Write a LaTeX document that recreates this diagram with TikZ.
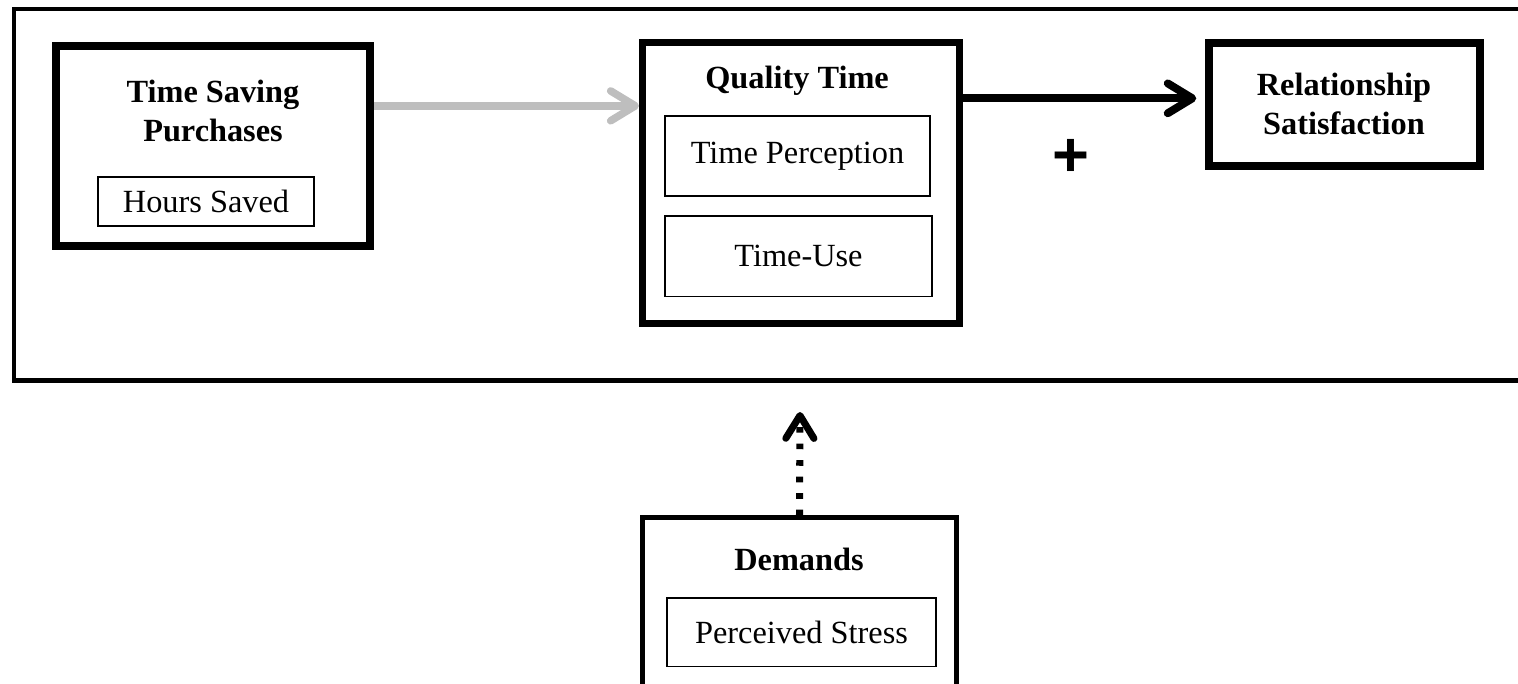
\documentclass[tikz,border=0pt]{standalone}
\usepackage{fontspec}
\setmainfont{Liberation Serif}
\setsansfont{Liberation Sans}
\usepackage{tikz}
\usetikzlibrary{
    positioning,
    arrows.meta
}
\definecolor{arrowgray}{RGB}{190,190,190}
\tikzset{
    >=Stealth,
    every node/.style={
        font=\fontsize{18.4}{22}\selectfont
    },
    outerframe/.style={draw, line width=2.3pt},
    thickbox/.style={draw, line width=4.5pt, inner sep=0pt},
    qualbox/.style={draw, line width=4pt, inner sep=0pt},
    demandbox/.style={draw, line width=2.55pt, inner sep=0pt},
    subbox/.style={draw, line width=0.85pt, inner sep=0pt},
    boxtitle/.style={
        font=\bfseries\fontsize{18.4}{22}\selectfont,
        align=center,
        inner sep=0pt
    },
    grayarrow/.style={
        draw=arrowgray,
        line width=4.3pt,
        -{Straight Barb[length=14pt, width=17pt, round]}
    },
    blackarrow/.style={
        draw,
        line width=4.5pt,
        -{Straight Barb[length=14pt, width=17pt, round]}
    },
    dotarrow/.style={
        draw,
        line width=4pt,
        dash pattern=on 3.2pt off 6.2pt,
        -{Straight Barb[length=13pt, width=16pt, round]}
    }
}

\begin{document}
\begin{tikzpicture}[
    x=0.02cm,
    y=-0.02cm
]

    \useasboundingbox (0,0) rectangle (1518,683);
    \clip (0,0) rectangle (1518,683);

    % Marco
    \draw[outerframe] (14,9) rectangle (1545,380.5);

    % Cajas
    \node[thickbox, minimum width=6.28cm, minimum height=4cm] (tsp) at (213,146) {};
    \node[boxtitle] (tsptit) at (213,111) {Time Saving\\Purchases};
    \node[subbox, minimum width=4.32cm, minimum height=0.98cm] (hours) at (206,201.5) {Hours Saved};

    \node[qualbox, minimum width=6.34cm, minimum height=5.62cm] (qt) at (801,183) {};
    \node[boxtitle, anchor=base] (qttit) at (797,88) {Quality Time};
    \node[subbox, minimum width=5.31cm, minimum height=1.61cm] (perc) at (797.5,156) {Time Perception};
    \node[subbox, minimum width=5.35cm, minimum height=1.61cm] (use) at (798.5,256) {Time-Use};

    \node[thickbox, minimum width=5.42cm, minimum height=2.46cm] (rs) at (1344.5,104.5) {};
    \node[boxtitle] (rstit) at (1344,104) {Relationship\\Satisfaction};

    \node[font=\sffamily\bfseries\fontsize{36}{36}\selectfont, inner sep=0pt] (plus) at (1071,158) {+};

    % Demandas
    \node[demandbox, minimum width=6.29cm, minimum height=6cm] (dem) at (799.5,667.5) {};
    \node[boxtitle, anchor=base] (demtit) at (799,570) {Demands};
    \node[subbox, minimum width=5.39cm, minimum height=1.37cm] (stress) at (801.5,632) {Perceived Stress};
    \coordinate (demtip) at (800,412);

    % Flechas
    \draw[grayarrow] ([yshift=22.85pt]tsp.east) coordinate (g1) -- (g1 -| qt.west);
    \draw[blackarrow, shorten >=5pt] ([yshift=48.2pt]qt.east) coordinate (b1) -- (b1 -| rs.west);
    \draw[dotarrow] (dem.north) -- (demtip);

\end{tikzpicture}
\end{document}
